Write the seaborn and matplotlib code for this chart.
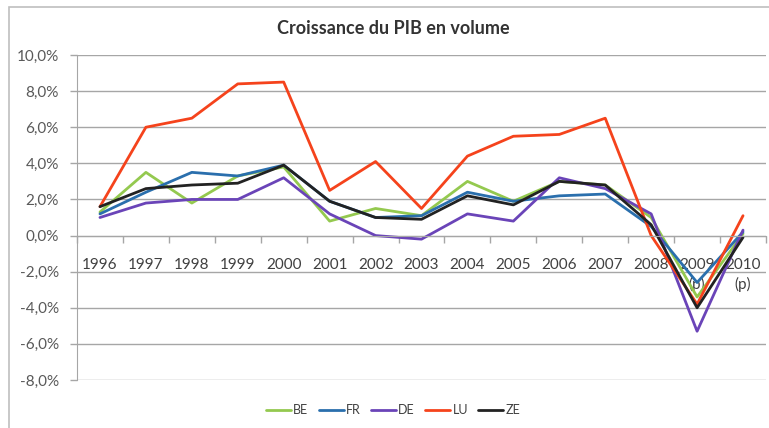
import pandas as pd
import matplotlib.pyplot as plt
import matplotlib.patches as patches
import seaborn as sns

# Style
sns.set_style("white")
plt.rcParams['font.family'] = ['Lato', 'DejaVu Sans']

# Data (croissance du PIB en volume, %)
years = ['1996', '1997', '1998', '1999', '2000', '2001', '2002', '2003',
         '2004', '2005', '2006', '2007', '2008', '2009', '2010']
year_labels = years[:13] + ['2009\n(p)', '2010\n(p)']
BE = [1.3, 3.5, 1.8, 3.3, 3.8, 0.8, 1.5, 1.1, 3.0, 1.9, 3.0, 2.8, 1.0, -3.4, 0.1]
FR = [1.2, 2.4, 3.5, 3.3, 3.9, 1.9, 1.0, 1.1, 2.4, 1.9, 2.2, 2.3, 0.5, -2.6, 0.2]
DE = [1.0, 1.8, 2.0, 2.0, 3.2, 1.2, 0.0, -0.2, 1.2, 0.8, 3.2, 2.6, 1.2, -5.3, 0.3]
LU = [1.6, 6.0, 6.5, 8.4, 8.5, 2.5, 4.1, 1.5, 4.4, 5.5, 5.6, 6.5, 0.0, -3.8, 1.1]
ZE = [1.6, 2.6, 2.8, 2.9, 3.9, 1.9, 1.0, 0.9, 2.2, 1.7, 3.0, 2.8, 0.6, -4.0, -0.1]
yticks = [10, 8, 6, 4, 2, 0, -2, -4, -6, -8]

series = {'BE': BE, 'FR': FR, 'DE': DE, 'LU': LU, 'ZE': ZE}
colors = {'BE': '#94c94f', 'FR': '#2a6fad', 'DE': '#6a44b8', 'LU': '#f5431c', 'ZE': '#222222'}
widths = {'BE': 2.0, 'FR': 2.0, 'DE': 2.0, 'LU': 3.8, 'ZE': 3.2}

rows = []
for name, vals in series.items():
    for i, v in enumerate(vals):
        rows.append({'idx': i, 'value': v, 'pays': name})
df = pd.DataFrame(rows)

# Figure
fig = plt.figure(figsize=(7.69, 4.28), dpi=100)
ax = fig.add_axes([77 / 769, 1 - 380 / 428, (766 - 77) / 769, (380 - 55) / 428])

for name in series:
    sns.lineplot(data=df[df['pays'] == name], x='idx', y='value', ax=ax,
                 color=colors[name], linewidth=widths[name], label=name)

ax.set_xlim(-0.5, 14.5)
ax.set_ylim(-8, 10)
ax.set_xlabel("")
ax.set_ylabel("")

# Grille horizontale
ax.set_yticks(yticks)
ax.set_yticklabels([f"{t:.1f}".replace('.', ',') + "%" for t in yticks],
                   fontsize=11, color='#595959')
ax.yaxis.grid(True, color='#a6a6a6', linewidth=1)
ax.tick_params(axis='y', length=5, width=1, color='#a6a6a6', pad=8, left=True)

# Axe des X sur 0
ax.spines['bottom'].set_position(('data', 0))
ax.spines['bottom'].set_color('#a6a6a6')
ax.spines['left'].set_color('#a6a6a6')
ax.spines['top'].set_visible(False)
ax.spines['right'].set_visible(False)
ax.set_xticks(range(len(years)))
ax.set_xticklabels(year_labels, fontsize=11, color='#404040', linespacing=1.45)
ax.set_xticks([i + 0.5 for i in range(-1, 15)], minor=True)
ax.tick_params(axis='x', which='major', length=0, pad=16)
ax.tick_params(axis='x', which='minor', length=5, width=1, color='#a6a6a6', bottom=True)

# Titre et légende
fig.text(393 / 769, 1 - 28 / 428, "Croissance du PIB en volume", ha='center', va='center',
         fontsize=13, weight='bold', color='#333333')
ax.get_legend().remove()
handles, labels = ax.get_legend_handles_labels()
for h in handles:
    h.set_linewidth(2)
fig.legend(handles, labels, loc='center', bbox_to_anchor=(393 / 769, 1 - 410 / 428), ncol=5,
           frameon=False, fontsize=9, handlelength=2.0, handletextpad=0.2, columnspacing=0.8,
           labelcolor='#404040')

# Cadre du graphique
fig.patches.append(patches.Rectangle((8.5 / 769, -0.1), 1.2, 1.1 - 7 / 428, transform=fig.transFigure,
                                     fill=False, edgecolor='#bfbfbf', linewidth=1.2))

plt.savefig("out.png", dpi=100)
